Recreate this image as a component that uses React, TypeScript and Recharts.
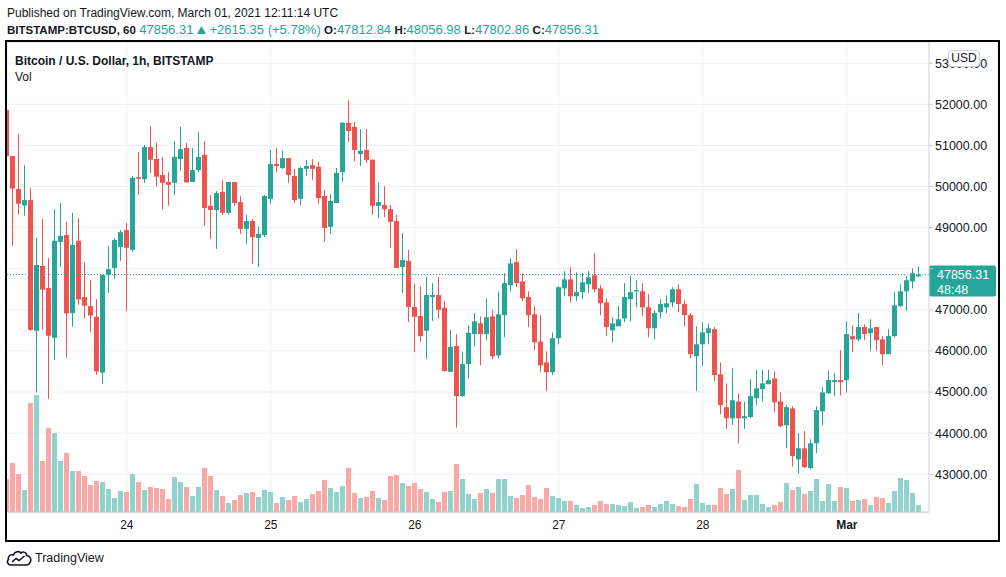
import React from 'react'
import {
  Bar,
  CartesianGrid,
  ComposedChart,
  ReferenceLine,
  XAxis,
  YAxis,
} from 'recharts'

// BITSTAMP:BTCUSD 1h candles, Feb 23 04:00 UTC -> Mar 01 12:00 UTC
const opens = [
  51860, 50740, 49940, 49540, 49670, 46490, 48070, 47530, 46320, 48650,
  48820, 46920, 48680, 47310, 47090, 46830, 45470, 47850, 48020, 48530,
  48940, 48460, 50230, 50180, 50960, 50670, 50280, 50110, 50090, 50670,
  50940, 50110, 50400, 50770, 49530, 49430, 49870, 49360, 50110, 49620,
  48970, 49160, 48750, 48820, 49700, 50550, 50450, 50690, 50260, 49700,
  50430, 50520, 50480, 49770, 49020, 49600, 50350, 51550, 51450, 50790,
  50890, 50650, 49530, 49550, 49450, 49160, 48040, 48190, 47070, 46850,
  46490, 47310, 47360, 47050, 45490, 46120, 44900, 45680, 46410, 46670,
  46410, 46840, 45890, 46870, 47600, 48160, 47690, 47310, 46890, 46230,
  45720, 45480, 46310, 47520, 47740, 47330, 47430, 47620, 47840, 47520,
  47180, 46500, 46600, 46790, 47260, 47450, 47450, 47060, 46550, 46940,
  47060, 47180, 47500, 47140, 46870, 45870, 46160, 46430, 46530, 45430,
  44630, 44360, 44770, 44360, 44390, 44850, 45070, 45190, 45330, 44770,
  44190, 44600, 43360, 43630, 43150, 43750, 44530, 44970, 45240, 45290,
  45290, 46360, 46280, 46580, 46430, 46580, 46280, 45920, 46360, 47090,
  47450, 47690, 47812.84,
]

const highs = [
  51900, 50750, 51280, 50520, 49960, 48750, 49210, 48260, 49450, 49600,
  49140, 49360, 49230, 48160, 47730, 47260, 47850, 48550, 48750, 48940,
  49110, 50260, 50840, 51010, 51470, 51060, 50720, 50350, 51110, 51450,
  51060, 50940, 51330, 51110, 49790, 49890, 50160, 50110, 50110, 49770,
  49310, 49210, 49020, 49790, 50890, 50940, 50870, 50690, 50430, 50480,
  50650, 50670, 50600, 49920, 49820, 50450, 51570, 52100, 51570, 51400,
  51400, 50670, 50090, 50010, 49550, 49310, 48870, 48460, 47630, 47560,
  47800, 47650, 47800, 47220, 46510, 46410, 45970, 46630, 46920, 46840,
  47280, 46990, 47450, 47890, 48250, 48470, 47890, 47450, 47090, 46870,
  45990, 46450, 47570, 47940, 48040, 47910, 47890, 47940, 48380, 47600,
  47280, 46820, 47090, 47650, 47820, 47720, 47650, 47380, 46990, 47260,
  47350, 47550, 47620, 47230, 46920, 46600, 46700, 46670, 46580, 45720,
  45210, 45580, 44970, 44770, 45310, 45540, 45540, 45540, 45500, 44990,
  44680, 44650, 44000, 44050, 43850, 44650, 45120, 45530, 45460, 46020,
  46720, 46620, 46920, 46650, 46770, 46580, 46360, 46530, 47430, 47620,
  47820, 48010, 48056.98,
]

const lows = [
  50700, 48560, 49310, 49290, 46490, 44990, 46520, 44830, 45780, 48040,
  45840, 46590, 47120, 46790, 46450, 45420, 45200, 47410, 47750, 48190,
  46970, 48410, 49800, 50090, 50330, 50000, 49440, 49530, 49800, 50380,
  50090, 50110, 50350, 49040, 48720, 48480, 49310, 49330, 49530, 48850,
  48600, 48120, 48040, 48770, 49580, 50350, 50430, 50090, 49600, 49550,
  50260, 50160, 49580, 48650, 48850, 49600, 50110, 51080, 50620, 50500,
  50570, 49310, 49240, 49260, 48510, 48020, 47410, 46700, 45970, 46220,
  45800, 46730, 46780, 45490, 45490, 44130, 44880, 45320, 46110, 45650,
  46260, 45800, 45820, 46330, 47450, 47550, 47210, 46580, 46020, 45480,
  45020, 45410, 46160, 47330, 47180, 47210, 47260, 47400, 47430, 46870,
  46360, 46210, 46600, 46700, 46720, 47060, 46840, 46330, 46280, 46790,
  46920, 47060, 46940, 46600, 45820, 45020, 45630, 46160, 45260, 44460,
  44100, 44200, 43750, 44100, 44360, 44680, 44770, 45190, 44510, 44140,
  43630, 43190, 43020, 43150, 43120, 43510, 44190, 44950, 44900, 44920,
  44990, 45970, 46230, 46260, 45990, 45990, 45650, 45920, 46330, 47060,
  46970, 47520, 47802.86,
]

const closes = [
  50740, 49950, 49580, 49670, 46510, 48090, 47490, 46370, 48680, 48800,
  46910, 48580, 47250, 47100, 46860, 45500, 47850, 47990, 48700, 48890,
  48510, 50210, 50190, 50960, 50650, 50240, 50090, 50040, 50720, 50910,
  50100, 50400, 50720, 49480, 49430, 49840, 49360, 50110, 49600, 48970,
  49160, 48770, 48850, 49770, 50550, 50500, 50690, 50280, 49670, 50450,
  50500, 50430, 49720, 48990, 49650, 50330, 51550, 51350, 50890, 50870,
  50650, 49530, 49620, 49450, 49140, 48020, 48210, 47070, 46830, 46360,
  47360, 47360, 47000, 45510, 46100, 44900, 45680, 46440, 46720, 46410,
  46820, 45870, 46890, 47650, 48130, 47650, 47280, 46870, 46210, 45650,
  45480, 46310, 47550, 47740, 47330, 47430, 47670, 47790, 47500, 47160,
  46580, 46670, 46770, 47310, 47430, 47480, 47060, 46550, 46920, 47140,
  47160, 47500, 47140, 46870, 45920, 46160, 46450, 46550, 45410, 44680,
  44360, 44800, 44360, 44410, 44900, 45090, 45210, 45290, 44750, 44170,
  44630, 43440, 43630, 43170, 43750, 44560, 44990, 45290, 45290, 45240,
  46410, 46280, 46580, 46410, 46550, 46260, 45920, 46360, 47110, 47450,
  47720, 47890, 47856.31,
]

const volumes = [
  990, 1470, 1140, 660, 3270, 3510, 1530, 2520, 2370, 1530,
  1770, 1230, 1230, 1080, 810, 930, 900, 690, 420, 630,
  600, 1140, 900, 660, 750, 720, 690, 390, 1050, 900,
  750, 480, 750, 1320, 1080, 660, 480, 270, 360, 510,
  570, 600, 450, 660, 600, 270, 450, 360, 480, 300,
  390, 540, 630, 960, 720, 600, 780, 1320, 570, 420,
  450, 630, 420, 360, 1080, 1110, 870, 780, 870, 690,
  600, 390, 300, 600, 630, 1440, 990, 540, 390, 570,
  690, 570, 990, 990, 480, 420, 510, 810, 450, 390,
  720, 480, 420, 330, 330, 210, 120, 150, 210, 330,
  240, 240, 210, 180, 300, 120, 150, 210, 150, 240,
  330, 240, 180, 150, 390, 840, 270, 210, 210, 720,
  540, 690, 1260, 360, 510, 510, 240, 150, 210, 300,
  870, 660, 750, 540, 630, 990, 330, 840, 330, 750,
  720, 330, 360, 390, 210, 450, 420, 270, 630, 1020,
  960, 570, 210,
]

const dayTickIdx = [20, 44, 68, 92, 116, 140]
const dayLabels = ['24', '25', '26', '27', '28', 'Mar']
const priceTicks = [43000, 44000, 45000, 46000, 47000, 48000, 49000, 50000, 51000, 52000, 53000]

const lastPrice = 47856.31
const countdown = '48:48'

const GREEN = '#26a69a'
const RED = '#ef5350'
const GREEN_VOL = '#92d2cc'
const RED_VOL = '#f7a9a7'
const TEXT = '#131722'
const FONT = '"Liberation Sans", Arial, sans-serif'

const rows = opens.map((open, i) => ({
  idx: i,
  open,
  high: highs[i],
  low: lows[i],
  close: closes[i],
  volume: volumes[i],
}))

function Candle(props: any) {
  const { x, y, width, height, payload } = props
  if (!payload) return null
  const { open, close, high, low } = payload
  const color = close >= open ? GREEN : RED
  const top = Math.min(y, y + height)
  const span = Math.abs(height)
  const ratio = high === low ? 0 : span / (high - low)
  const yOf = (v: number) => top + (high - v) * ratio
  const bodyTop = yOf(Math.max(open, close))
  const bodyBottom = yOf(Math.min(open, close))
  const left = Math.round(x)
  const cx = left + Math.floor(width / 2) + 0.5
  return (
    <g>
      <line x1={cx} x2={cx} y1={top} y2={top + span} stroke={color} strokeWidth={1} />
      <rect x={left} y={bodyTop} width={width} height={Math.max(1, bodyBottom - bodyTop)} fill={color} />
    </g>
  )
}

function VolumeBar(props: any) {
  const { x, y, width, height, payload } = props
  if (!payload) return null
  const fill = payload.close >= payload.open ? GREEN_VOL : RED_VOL
  return <rect x={Math.round(x)} y={y} width={width} height={height} fill={fill} />
}

function PriceTick(props: any) {
  const { x, y, payload } = props
  // the last-price label hides the tick it sits on
  if (Math.abs(payload.value - lastPrice) < 700) return <g />
  return (
    <text x={x} y={y} dy="0.355em" fontSize={12.5} fontFamily={FONT} fill={TEXT}>
      {Number(payload.value).toFixed(2)}
    </text>
  )
}

function TimeTick(props: any) {
  const { x, y, payload } = props
  const label = dayLabels[dayTickIdx.indexOf(payload.value)] ?? ''
  return (
    <text
      x={x}
      y={y}
      dy="0.71em"
      textAnchor="middle"
      fontSize={12}
      fontFamily={FONT}
      fontWeight={label === 'Mar' ? 700 : 400}
      fill={TEXT}
    >
      {label}
    </text>
  )
}

function LastPriceLabel(props: any) {
  const { viewBox } = props
  if (!viewBox) return null
  const left = viewBox.x + viewBox.width
  const y = viewBox.y
  return (
    <g>
      <rect x={left} y={y - 9} width={67} height={31} rx={2} fill={GREEN} />
      <text x={left + 8} y={y} dy="0.355em" fontSize={12.5} fontFamily={FONT} fill="#fff">
        {lastPrice.toFixed(2)}
      </text>
      <text x={left + 8} y={y + 15} dy="0.355em" fontSize={12.5} fontFamily={FONT} fill="#fff">
        {countdown}
      </text>
    </g>
  )
}

function Triangle() {
  return (
    <svg width="9" height="8" viewBox="0 0 9 8" style={{ display: 'inline-block', margin: '0 3px 0 4px' }}>
      <path d="M4.5 0 L9 8 L0 8 Z" fill={GREEN} />
    </svg>
  )
}

function Logo() {
  return (
    <svg width="26" height="17" viewBox="0 0 26 17">
      <path
        d="M5 15 C1.5 15 0.5 11.5 2.5 9.5 C1.5 6.5 4.5 4 7.5 5 C8.5 1.5 13 0.5 15 3 C17 1 21 2.5 20.5 5.5 C23.5 5.5 25.5 8.5 24.5 11.5 C23.8 13.8 22.5 15 20 15 Z"
        fill="none"
        stroke={TEXT}
        strokeWidth={1.6}
      />
      <path d="M6 12 L10 8.5 L13 10.5 L18.5 6" fill="none" stroke={TEXT} strokeWidth={1.6} />
    </svg>
  )
}

const teal = { color: GREEN, fontSize: 13 }
const bold = { fontWeight: 700, fontSize: 11.5 }

export default function App() {
  return (
    <div
      style={{
        position: 'fixed',
        left: 0,
        top: 0,
        width: 1006,
        height: 577,
        background: '#fff',
        fontFamily: FONT,
        color: TEXT,
        overflow: 'hidden',
      }}
    >
      <div style={{ position: 'absolute', left: 7, top: 5, fontSize: 12, lineHeight: '16px', whiteSpace: 'nowrap' }}>
        Published on TradingView.com, March 01, 2021 12:11:14 UTC
      </div>
      <div style={{ position: 'absolute', left: 7, top: 22, fontSize: 12, lineHeight: '16px', whiteSpace: 'nowrap' }}>
        <span style={bold}>BITSTAMP:BTCUSD, 60</span>{' '}
        <span style={teal}>47856.31</span>
        <Triangle />
        <span style={teal}>+2615.35 (+5.78%)</span>{' '}
        <span style={bold}>O:</span><span style={teal}>47812.84</span>{' '}
        <span style={bold}>H:</span><span style={teal}>48056.98</span>{' '}
        <span style={bold}>L:</span><span style={teal}>47802.86</span>{' '}
        <span style={bold}>C:</span><span style={teal}>47856.31</span>
      </div>

      <div style={{ position: 'absolute', left: 7, top: 42, width: 991, height: 498 }}>
        <ComposedChart width={991} height={498} data={rows} margin={{ top: 0, right: 0, bottom: 0, left: 0 }}>
          <CartesianGrid yAxisId="price" stroke="#eeeff2" />
          <XAxis
            dataKey="idx"
            type="number"
            domain={[0.02, 153.69]}
            allowDataOverflow
            ticks={dayTickIdx}
            interval={0}
            height={28}
            tickLine={false}
            axisLine={{ stroke: '#c4c6cc' }}
            tick={<TimeTick />}
          />
          <XAxis
            xAxisId="vol"
            dataKey="idx"
            type="number"
            domain={[0.02, 153.69]}
            allowDataOverflow
            ticks={dayTickIdx}
            hide
          />
          <YAxis
            yAxisId="price"
            orientation="right"
            width={69}
            domain={[42080, 53517]}
            allowDataOverflow
            ticks={priceTicks}
            interval={0}
            tickSize={4}
            tickMargin={2}
            tickLine={{ stroke: '#c4c6cc' }}
            axisLine={{ stroke: '#d6d8dd' }}
            tick={<PriceTick />}
          />
          <YAxis yAxisId="vol" domain={[0, 14100]} allowDataOverflow hide />
          <Bar
            xAxisId="vol"
            yAxisId="vol"
            dataKey="volume"
            barSize={5}
            shape={<VolumeBar />}
            isAnimationActive={false}
          />
          <Bar
            yAxisId="price"
            dataKey={(d: any) => [d.low, d.high]}
            barSize={5}
            shape={<Candle />}
            isAnimationActive={false}
          />
          <ReferenceLine
            yAxisId="price"
            y={lastPrice}
            stroke={GREEN}
            strokeDasharray="1 2"
            label={(p: any) => <LastPriceLabel {...p} />}
          />
        </ComposedChart>

        <div style={{ position: 'absolute', left: 8, top: 12, fontSize: 12, fontWeight: 700, lineHeight: '14px', whiteSpace: 'nowrap' }}>
          Bitcoin / U.S. Dollar, 1h, BITSTAMP
        </div>
        <div style={{ position: 'absolute', left: 8, top: 28, fontSize: 12, lineHeight: '14px' }}>Vol</div>
        <div
          style={{
            position: 'absolute',
            left: 941,
            top: 8,
            width: 30,
            height: 15,
            border: '1px solid #d1d4dc',
            borderRadius: 4,
            background: '#fff',
            fontSize: 12,
            lineHeight: '15px',
            textAlign: 'center',
          }}
        >
          USD
        </div>
      </div>

      {/* chart frame drawn over the pane */}
      <svg
        width={1006}
        height={577}
        style={{ position: 'absolute', left: 0, top: 0, pointerEvents: 'none' }}
      >
        <rect x={6} y={41} width={993} height={500} fill="none" stroke="#000" strokeWidth={2} />
      </svg>

      <div style={{ position: 'absolute', left: 6, top: 550 }}>
        <Logo />
      </div>
      <div style={{ position: 'absolute', left: 35, top: 550, fontSize: 12.5, lineHeight: '16px' }}>TradingView</div>
    </div>
  )
}
